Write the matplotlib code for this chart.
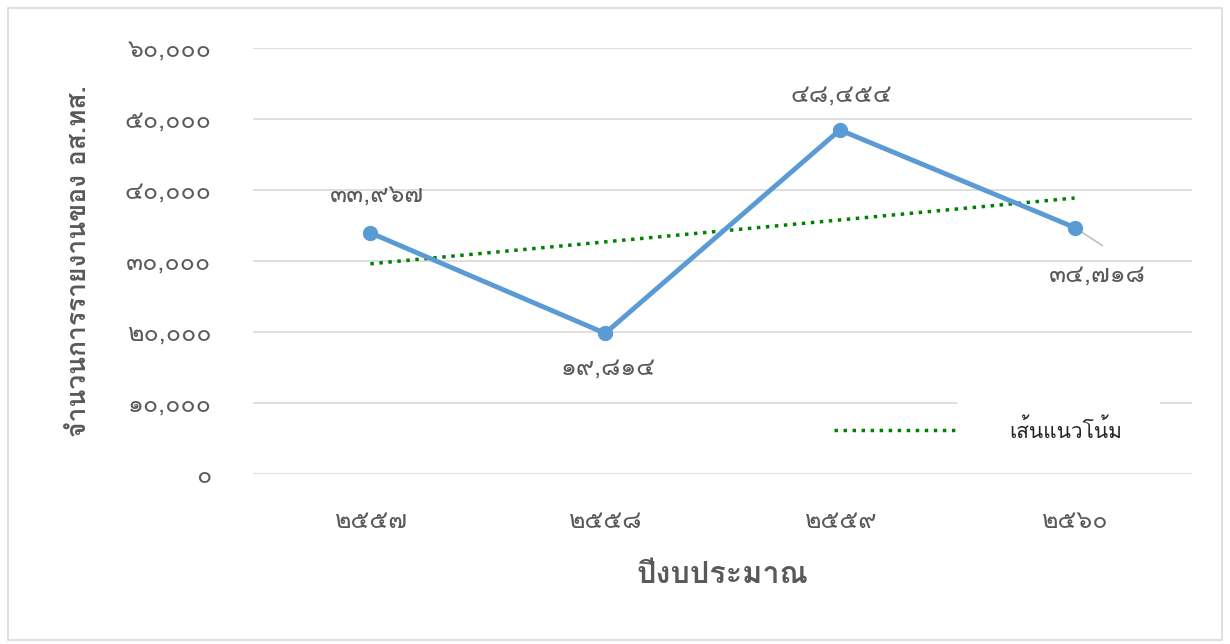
import matplotlib
matplotlib.use('Agg')
import matplotlib.pyplot as plt
from matplotlib import font_manager
from matplotlib.patches import Rectangle
import numpy as np

years = ['2557', '2558', '2559', '2560']
reports = [33967, 19814, 48454, 34718]
y_ticks = [0, 10000, 20000, 30000, 40000, 50000, 60000]
y_label = 'จำนวนการรายงานของ อส.ทส.'
x_label = 'ปีงบประมาณ'
trend_label = 'เส้นแนวโน้ม'


def thai_fonts():
    names = []
    try:
        from fontTools.ttLib import TTFont
        for f in font_manager.fontManager.ttflist:
            try:
                tt = TTFont(f.fname, fontNumber=0, lazy=True)
                cmap = tt.getBestCmap()
                if cmap and 0x0E01 in cmap and 0x0E51 in cmap and f.name not in names:
                    names.append(f.name)
            except Exception:
                pass
    except Exception:
        pass
    return names


FAM = thai_fonts() + ['DejaVu Sans']
plt.rcParams['font.family'] = FAM

THAI_DIG = str.maketrans('0123456789', '๐๑๒๓๔๕๖๗๘๙')


def th(s):
    return str(s).translate(THAI_DIG)


def th_num(v):
    return th(f'{v:,}')


fig = plt.figure(figsize=(12.3, 6.44), dpi=100)
ax = fig.add_axes([253 / 1230, 1 - 474 / 644, (1192 - 253) / 1230, (474 - 48) / 644])

x = np.arange(len(years))
gray = '#595959'
NUM_FS = 18

ax.set_ylim(0, 60000)
ax.set_xlim(-0.5, len(years) - 0.5)
ax.set_yticks(y_ticks)
ax.set_yticklabels([th_num(v) for v in y_ticks], color=gray, fontsize=NUM_FS)
ax.set_xticks(x)
ax.set_xticklabels([th(y) for y in years], color=gray, fontsize=NUM_FS)
ax.tick_params(axis='y', length=0, pad=30)
ax.tick_params(axis='x', length=0, pad=26)
ax.grid(axis='y', color='#d9d9d9', linewidth=1.2)
ax.set_axisbelow(True)
for s in ax.spines.values():
    s.set_visible(False)

ax.plot(x, reports, color='#5b9bd5', linewidth=3.5, marker='o', markersize=10,
        zorder=3, solid_capstyle='round')

coef = np.polyfit(x, reports, 1)
trend = np.polyval(coef, x)
ax.plot(x, trend, color='#008000', linewidth=2.5, linestyle=(0, (1, 1.6)),
        zorder=2, label=trend_label)

# data labels
offsets = [(5, 27), (2, -25), (1, 25), (16, -34)]
for i, v in enumerate(reports):
    dx, dy = offsets[i]
    ax.annotate(th_num(v), xy=(x[i], v), xytext=(dx, dy),
                textcoords='offset points', ha='center', va='center',
                fontsize=NUM_FS, color=gray)

# leader line for the last label
ax.annotate('', xy=(x[3], reports[3]), xytext=(20, -13), textcoords='offset points',
            arrowprops=dict(arrowstyle='-', color='#bfbfbf', lw=1.2,
                            shrinkA=0, shrinkB=0), zorder=2.5)

ax.set_ylabel(y_label, fontsize=19, color=gray, fontweight='bold', labelpad=24)
ax.set_xlabel(x_label, fontsize=22, color=gray, fontweight='bold', labelpad=20)

leg = ax.legend(loc='center', bbox_to_anchor=((978 - 253) / 939, (474 - 430) / 426),
                frameon=False, fontsize=15, handlelength=6.0, handletextpad=2.4,
                labelcolor='#262626')

# gap in the gridline behind the legend area (as in the reference)
ax.add_patch(Rectangle(((957 - 253) / 939, (474 - 410) / 426), (1160 - 957) / 939, 15 / 426,
                       transform=ax.transAxes, facecolor='white', edgecolor='none', zorder=1.5))

fig.patches.append(Rectangle((8 / 1230, 4 / 644), 1214 / 1230, 632 / 644,
                             transform=fig.transFigure, fill=False,
                             edgecolor='#d9d9d9', linewidth=1.2))

fig.savefig('out.png', dpi=100, facecolor='white')
